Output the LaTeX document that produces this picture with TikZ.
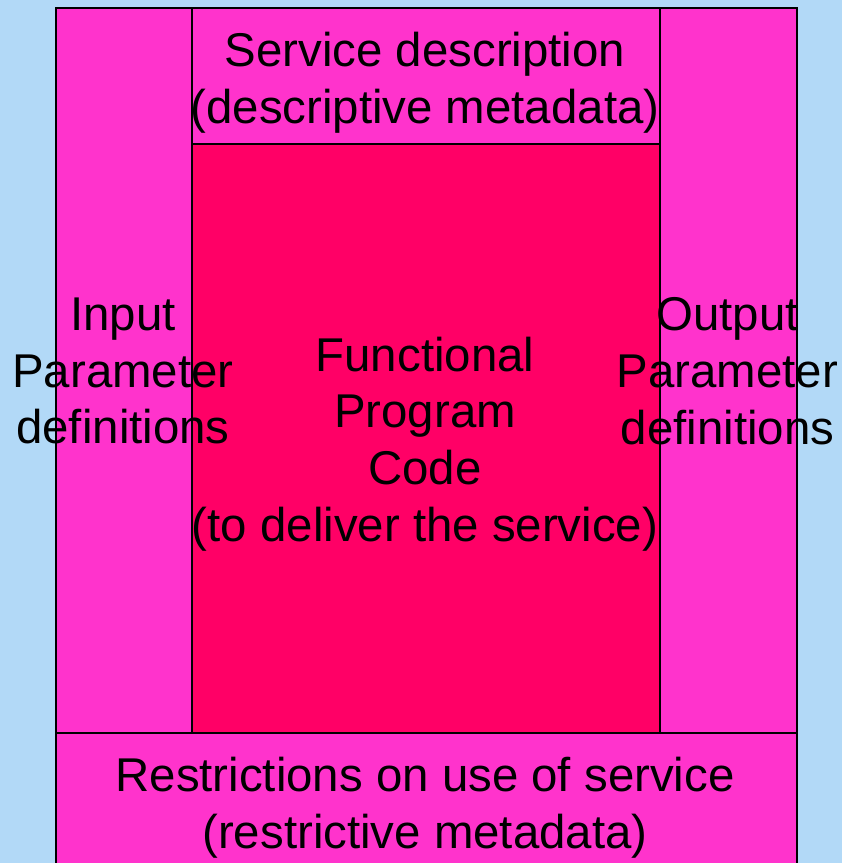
\documentclass[tikz,border=0pt]{standalone}
\usepackage{fontspec}
\setmainfont{Liberation Sans}
\definecolor{skyblue}{RGB}{178,217,247}
\definecolor{pinkbox}{RGB}{255,51,204}
\definecolor{redbox}{RGB}{255,0,102}

\begin{document}
\begin{tikzpicture}[x=0.5pt, y=-0.5pt,
  box/.style={draw, line width=0.9pt, fill=pinkbox, inner sep=0pt, anchor=north west},
  core/.style={box, fill=redbox},
  txt/.style={align=center, inner sep=0pt, font=\fontsize{23.7}{28.4}\selectfont}
]
\fill[skyblue] (0,0) rectangle (842,863);
\useasboundingbox (0,0) rectangle (842,863);

% boxes
\node[box, minimum width=68pt, minimum height=362.5pt] (inbox) at (55,7) {};
\node[box, minimum width=68.5pt, minimum height=362.5pt] (outbox) at (659,7) {};
\node[box, minimum width=234pt, minimum height=68pt] (descbox) at (191,7) {};
\node[core, minimum width=234pt, minimum height=294.5pt] (codebox) at (191,143) {};
\node[box, minimum width=370.5pt, minimum height=74pt] (restbox) at (55,732) {};

% labels
\node[txt] (intxt) at (123,371) {Input\\Parameter\\definitions};
\node[txt] (outtxt) at (727.5,371) {Output\\Parameter\\definitions};
\node[txt] (desctxt) at (425,83) {Service description\\(descriptive metadata)};
\node[txt] (codetxt) at (425,444) {Functional\\Program\\Code\\(to deliver the service)};
\node[txt] (resttxt) at (425,808) {Restrictions on use of service\\(restrictive metadata)};
\end{tikzpicture}
\end{document}
